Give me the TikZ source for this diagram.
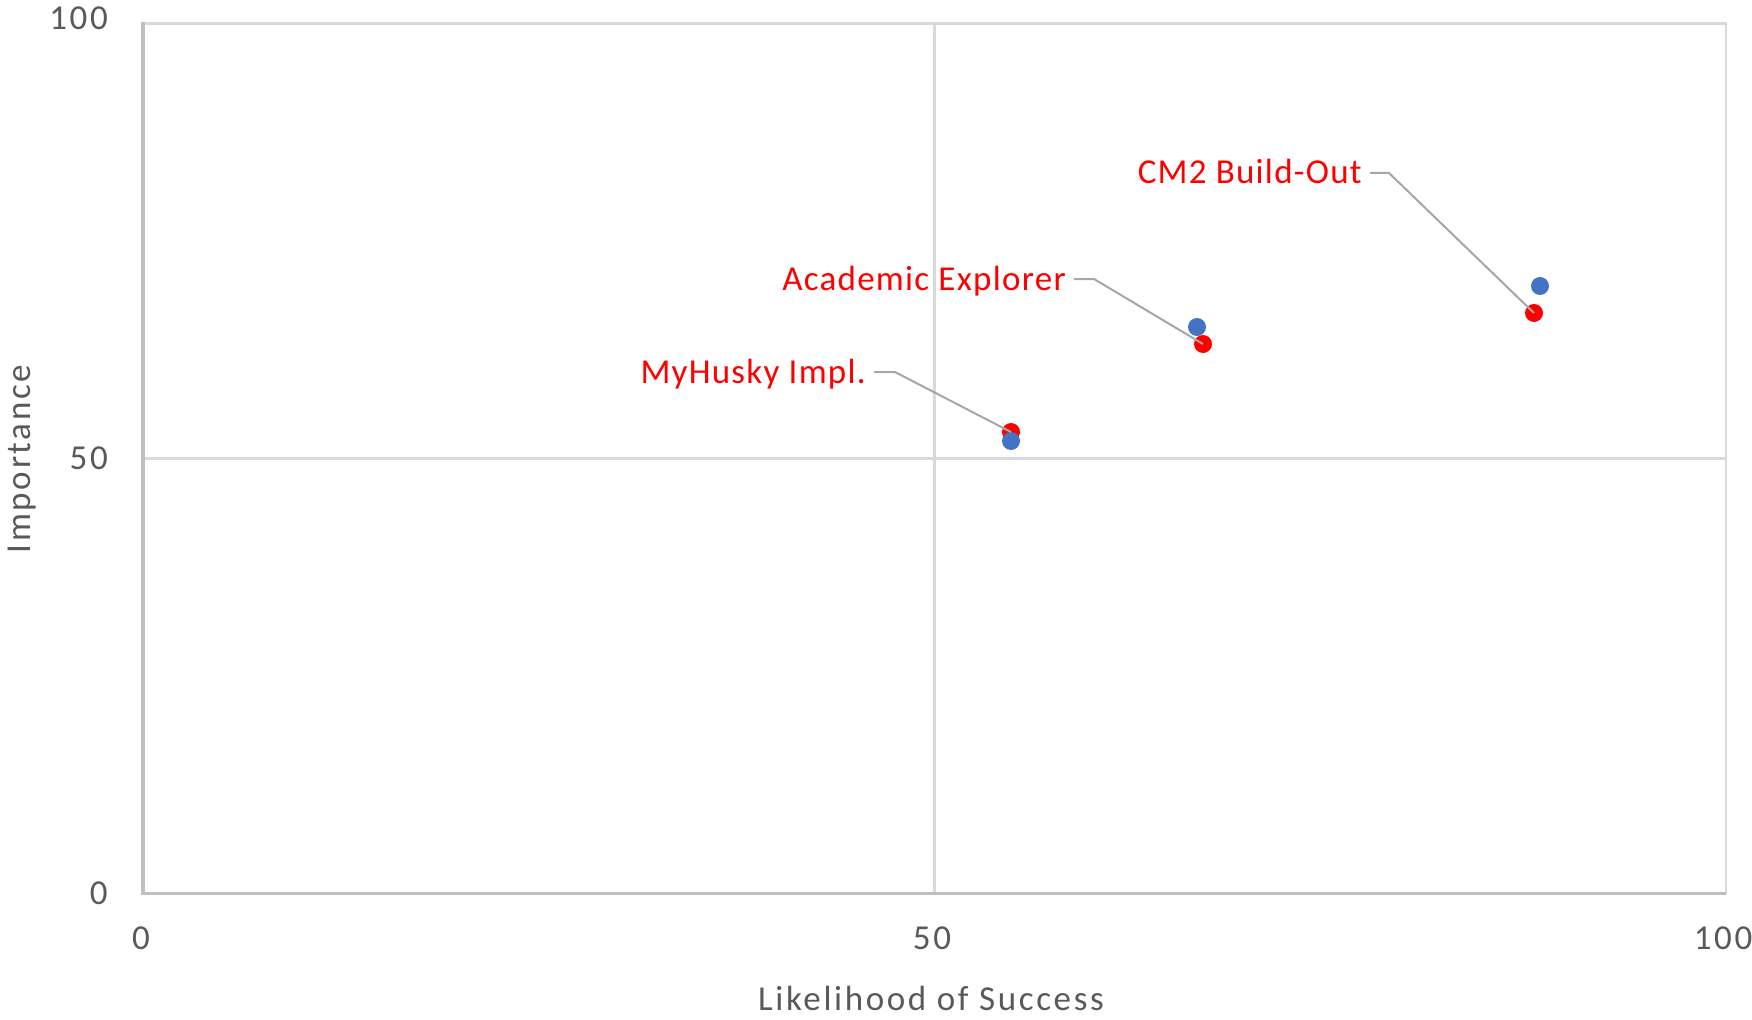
\documentclass[tikz,border=0pt]{standalone}
\usepackage{fontspec}
\usepackage{tikz}
\usepackage{xcolor}
\newfontfamily\axisfont{Carlito}[LetterSpace=7.5]
\newfontfamily\lblfont{Carlito}[LetterSpace=3.6]
\definecolor{gridgray}{RGB}{217,217,217}
\definecolor{axisgray}{RGB}{191,191,191}
\definecolor{textgray}{RGB}{89,89,89}
\definecolor{leadgray}{RGB}{166,166,166}
\definecolor{ptblue}{RGB}{68,114,196}
\definecolor{ptred}{RGB}{255,0,0}

\begin{document}
\begin{tikzpicture}[x=0.75pt,y=0.75pt,yscale=-1,xscale=1,
    gridline/.style={draw=gridgray, line width=1.9pt},
    axisline/.style={draw=axisgray, line width=2.6pt},
    ticklbl/.style={font=\axisfont\fontsize{26.25}{30}\selectfont, text=textgray, inner sep=0pt},
    ptlbl/.style={font=\lblfont\fontsize{26.25}{30}\selectfont, text=ptred, inner xsep=6pt, inner ysep=0pt, text height=19.5pt, text depth=3pt},
    bluedot/.style={circle, fill=ptblue, inner sep=0pt, minimum size=13.5pt},
    reddot/.style={circle, fill=ptred, inner sep=0pt, minimum size=13.5pt},
    leader/.style={draw=leadgray, line width=1.5pt}]
        \useasboundingbox (0,0) rectangle (1752,1020);

        %Shape: Grid lines
        \draw[gridline] (143,23.5) -- (1726,23.5) -- (1726,893.5) ;
        \draw[gridline] (934.5,23.5) -- (934.5,893.5) ;
        \draw[gridline] (143,458.5) -- (1726,458.5) ;
        %Shape: Axes
        \draw[axisline] (143,22) -- (143,893.5) -- (1726,893.5) ;

        % Text Node
        \node (ytop) at (108,30) [anchor=base east, ticklbl] {100};
        % Text Node
        \node (ymid) at (108,469) [anchor=base east, ticklbl] {50};
        % Text Node
        \node (ybot) at (108,904) [anchor=base east, ticklbl] {0};
        % Text Node
        \node (xleft) at (141,949) [anchor=base, ticklbl] {0};
        % Text Node
        \node (xmid) at (932,949) [anchor=base, ticklbl] {50};
        % Text Node
        \node (xright) at (1723,949) [anchor=base, ticklbl] {100};
        % Text Node
        \node (ytitle) at (22,459) [rotate=90, ticklbl] {Importance};
        % Text Node
        \node (xtitle) at (931,1010) [anchor=base, ticklbl] {Likelihood of Success};

        %Shape: Points
        \node (mhR) at (1011,432) [reddot] {};
        \node (mhB) at (1011,441) [bluedot] {};
        \node (acB) at (1197,327) [bluedot] {};
        \node (acR) at (1203,344) [reddot] {};
        \node (cmB) at (1540,286) [bluedot] {};
        \node (cmR) at (1534,313) [reddot] {};

        % Text Node
        \node (cmlab) at (1370,184) [anchor=base east, ptlbl] {CM2 Build-Out};
        % Text Node
        \node (aclab) at (1074,290) [anchor=base east, ptlbl] {Academic Explorer};
        % Text Node
        \node (mhlab) at (874,383) [anchor=base east, ptlbl] {MyHusky Impl.};

        %Shape: Leader lines
        \draw[leader] (cmlab.east) -- ++(19,0) -- (cmR.center) ;
        \draw[leader] (aclab.east) -- ++(20,0) -- (acR.center) ;
        \draw[leader] (mhlab.east) -- ++(21,0) -- (mhR.center) ;

\end{tikzpicture}
\end{document}
